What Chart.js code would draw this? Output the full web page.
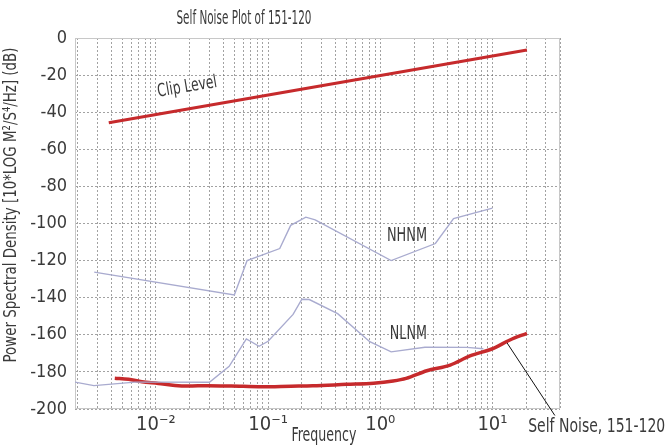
<!DOCTYPE html>
<html lang="en">
<head>
    <meta charset="UTF-8">
    <title>Self Noise Plot of 151-120</title>
    <script src="https://cdn.jsdelivr.net/npm/chart.js"></script>
    <style>
        body {
            margin: 0;
            padding: 0;
            background-color: #ffffff;
            overflow: hidden;
        }

        .chart-container {
            position: relative;
            width: 667px;
            height: 445px;
        }
    </style>
</head>
<body>
    <div class="chart-container">
        <canvas id="noiseChart" width="667" height="445"></canvas>
    </div>

    <script>
        // values (Hz, dB)
        const clipFreq = [0.0038, 20.3];
        const clipDb = [-45.7, -6.5];

        const selfNoiseFreq = [0.0043, 0.0057, 0.0075, 0.0105, 0.0148, 0.0194, 0.029, 0.047, 0.088, 0.16, 0.25, 0.5, 0.87, 1.3, 1.7, 2.6, 4.2, 6.3, 10.2, 14.3, 20.3];
        const selfNoiseDb = [-183.4, -184, -185.3, -186.2, -187.3, -187.6, -187.4, -187.6, -188, -187.7, -187.5, -186.7, -186.1, -184.9, -183.5, -179.4, -176.3, -171.4, -167.3, -162.8, -159.2];

        const nhnmFreq = [0.00282, 0.05, 0.065, 0.127, 0.159, 0.217, 0.263, 1.25, 3.1, 4.5, 10];
        const nhnmDb = [-126.2, -138.5, -120, -113.5, -101, -96.6, -98, -120, -110.8, -97.4, -91.7];

        const nlnmFreq = [0.0019, 0.0028, 0.0065, 0.01, 0.03, 0.045, 0.064, 0.083, 0.1, 0.167, 0.2, 0.233, 0.417, 0.806, 1.25, 2.5, 5.9, 8.3];
        const nlnmDb = [-185.5, -187.4, -185.5, -185.5, -185.6, -177, -162.2, -166.2, -163.5, -149, -140.8, -141, -148.6, -163.7, -169.2, -166.7, -166.8, -167.5];

        const yTicks = [0, -20, -40, -60, -80, -100, -120, -140, -160, -180, -200];

        const FONT = "'Liberation Sans Narrow', 'DejaVu Sans Condensed', 'Roboto', sans-serif";
        const TEXT = '#3a3a3a';
        const RED = '#c62a2c';
        const MODEL = '#a9abcf';

        const sup = { '-': '\u207B', '0': '\u2070', '1': '\u00B9', '2': '\u00B2', '3': '\u00B3' };

        function pts(xs, ys) {
            return xs.map((x, i) => ({ x: x, y: ys[i] }));
        }

        function isDecade(v) {
            const l = Math.log10(v);
            return Math.abs(l - Math.round(l)) < 1e-9;
        }

        // text helper: squeeze to a width when asked
        function label(ctx, text, x, y, size, opts) {
            opts = opts || {};
            ctx.save();
            ctx.translate(x, y);
            if (opts.rot) ctx.rotate(opts.rot * Math.PI / 180);
            ctx.font = size + 'px ' + FONT;
            ctx.fillStyle = opts.color || TEXT;
            ctx.textAlign = 'center';
            ctx.textBaseline = 'middle';
            if (opts.width) {
                const w = ctx.measureText(text).width;
                ctx.scale(opts.width / w, 1);
            }
            ctx.fillText(text, 0, 0);
            ctx.restore();
        }

        const extras = {
            id: 'extras',
            beforeDatasetsDraw(chart) {
                const { ctx, chartArea: a } = chart;
                ctx.save();
                ctx.strokeStyle = '#c8c8c8';
                ctx.lineWidth = 1;
                ctx.strokeRect(a.left + 0.5, a.top + 0.5, a.right - a.left - 1, a.bottom - a.top - 1);
                ctx.restore();
            },
            afterDraw(chart) {
                const { ctx } = chart;
                const xs = chart.scales.x;
                const ys = chart.scales.y;
                const px = (f) => xs.getPixelForValue(f);
                const py = (d) => ys.getPixelForValue(d);

                label(ctx, 'Self Noise Plot of 151-120', 244, 19, 19, { width: 135 });
                label(ctx, 'Power Spectral Density [10*LOG M\u00B2/S\u2074/Hz] (dB)', 11, 205, 18, { rot: -90, width: 315 });
                label(ctx, 'Frequency', 324, 436, 19, { width: 65 });

                label(ctx, 'Clip Level', px(0.019), py(-26.5), 18, { rot: -9.5, width: 60 });
                label(ctx, 'NHNM', px(1.73), py(-106.5), 20, { width: 40 });
                label(ctx, 'NLNM', px(1.78), py(-159.5), 20, { width: 37 });
                label(ctx, 'Self Noise, 151-120', px(85), py(-209.5), 19, { width: 137 });

                // leader line to the self noise curve
                ctx.save();
                ctx.strokeStyle = '#111';
                ctx.lineWidth = 1;
                ctx.beginPath();
                ctx.moveTo(px(13.5), py(-164.4));
                ctx.lineTo(px(36), py(-203.5));
                ctx.stroke();
                ctx.restore();
            }
        };

        const ctx = document.getElementById('noiseChart').getContext('2d');
        new Chart(ctx, {
            type: 'line',
            data: {
                datasets: [
                    {
                        label: 'NHNM',
                        data: pts(nhnmFreq, nhnmDb),
                        borderColor: MODEL,
                        borderWidth: 1.4,
                        pointRadius: 0,
                        tension: 0
                    },
                    {
                        label: 'NLNM',
                        data: pts(nlnmFreq, nlnmDb),
                        borderColor: MODEL,
                        borderWidth: 1.4,
                        pointRadius: 0,
                        tension: 0
                    },
                    {
                        label: 'Clip Level',
                        data: pts(clipFreq, clipDb),
                        borderColor: RED,
                        borderWidth: 3,
                        pointRadius: 0
                    },
                    {
                        label: 'Self Noise, 151-120',
                        data: pts(selfNoiseFreq, selfNoiseDb),
                        borderColor: RED,
                        borderWidth: 3.5,
                        pointRadius: 0,
                        cubicInterpolationMode: 'monotone'
                    }
                ]
            },
            options: {
                responsive: false,
                animation: false,
                devicePixelRatio: 1,
                layout: {
                    padding: { top: 38, right: 107, left: 0, bottom: 0 }
                },
                plugins: {
                    legend: { display: false },
                    title: { display: false },
                    tooltip: { enabled: false }
                },
                scales: {
                    x: {
                        type: 'logarithmic',
                        min: 0.0019,
                        max: 40,
                        afterFit: (scale) => { scale.height = 36; },
                        afterBuildTicks: (scale) => {
                            const t = [];
                            for (let e = -3; e <= 1; e++) {
                                for (let m = 1; m <= 9; m++) {
                                    const v = m * Math.pow(10, e);
                                    if (v >= scale.min && v <= scale.max) t.push({ value: v });
                                }
                            }
                            scale.ticks = t;
                        },
                        grid: {
                            color: 'rgba(100,100,100,0.6)',
                            lineWidth: 1,
                            drawTicks: false
                        },
                        border: { display: false, dash: [2, 2] },
                        ticks: {
                            autoSkip: false,
                            maxRotation: 0,
                            padding: 4,
                            color: TEXT,
                            font: { family: FONT, size: 20 },
                            callback: (value) => {
                                if (!isDecade(value)) return '';
                                const e = String(Math.round(Math.log10(value)));
                                return '10' + e.split('').map(c => sup[c]).join('');
                            }
                        }
                    },
                    y: {
                        type: 'linear',
                        min: -200,
                        max: 0,
                        afterFit: (scale) => { scale.width = 75; },
                        afterBuildTicks: (scale) => {
                            scale.ticks = yTicks.map(v => ({ value: v }));
                        },
                        grid: {
                            color: 'rgba(100,100,100,0.6)',
                            lineWidth: 1,
                            drawTicks: false
                        },
                        border: { display: false, dash: [2, 2] },
                        ticks: {
                            padding: 8,
                            color: TEXT,
                            font: { family: FONT, size: 18 }
                        }
                    }
                }
            },
            plugins: [extras]
        });
    </script>
</body>
</html>
